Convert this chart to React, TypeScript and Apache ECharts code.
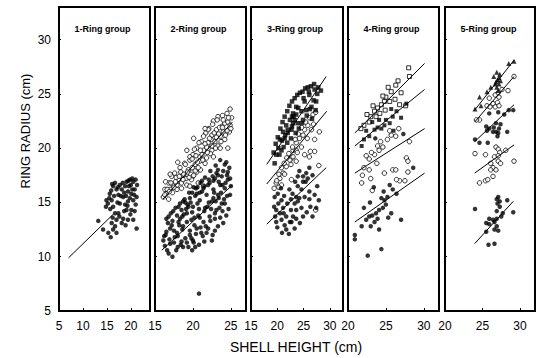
import React, { useEffect, useRef } from "react";
import * as echarts from "echarts";

const FONT = "'Liberation Sans', Arial, Helvetica, sans-serif";

const panelTitles = ["1-Ring group", "2-Ring group", "3-Ring group", "4-Ring group", "5-Ring group"];
const xAxisTitle = "SHELL HEIGHT (cm)";
const yAxisTitle = "RING RADIUS (cm)";
const xRanges: [number, number][] = [[5, 24], [15, 27], [15, 32.5], [20, 32], [20, 32]];
const yRange: [number, number] = [5, 33];

// ---- Panel 1 ----
const p1Filled = [
  [13.2, 13.3], [14.2, 12.5], [15.3, 12.2], [15.8, 11.8], [14.8, 14.6], [14.9, 15.2], [15.6, 15.8], [16.3, 16.5],
  [16.7, 16.8], [16.0, 15.2], [16.3, 14.6], [16.7, 14.0], [17.0, 13.4], [16.7, 12.8], [17.4, 14.0], [17.7, 14.9],
  [17.4, 15.7], [18.1, 16.2], [18.4, 15.5], [18.8, 16.5], [19.1, 16.9], [19.8, 17.1], [20.5, 16.9], [21.0, 17.1],
  [19.4, 16.0], [20.1, 15.8], [20.8, 16.2], [21.2, 15.5], [20.5, 15.2], [19.4, 15.1], [18.8, 14.8], [19.1, 14.3],
  [20.1, 14.3], [20.8, 14.2], [18.4, 13.5], [19.4, 13.4], [20.5, 13.4], [21.2, 12.6], [18.1, 13.1], [17.0, 12.2],
  [16.3, 12.5], [21.3, 16.6], [20.0, 16.6], [17.7, 16.6], [17.0, 16.2], [15.2, 14.9], [15.5, 15.4], [15.9, 16.1],
  [16.1, 16.7], [16.5, 15.6], [17.2, 15.0], [17.9, 15.6], [18.3, 16.8], [18.6, 15.9], [19.0, 15.6], [19.6, 16.5],
  [20.3, 16.2], [20.7, 15.7], [19.8, 15.4], [19.3, 14.7], [18.6, 14.2], [17.6, 13.7], [16.2, 13.6], [15.7, 14.4],
  [20.3, 17.2], [19.5, 17.0], [17.3, 16.4], [21.0, 14.8], [19.9, 13.9], [18.9, 12.9], [16.0, 13.1],
];
const p1Line = [[7, 9.9], [16.3, 13.9]];

// ---- Panel 2 ----
const p2Open = [
  [24.5, 23.2], [23.3, 22.9], [22.7, 22.5], [24.2, 22.3], [24.6, 22.4], [23.8, 22.0], [23.1, 21.7], [22.1, 21.8],
  [21.7, 21.4], [22.5, 21.2], [23.6, 21.1], [24.2, 20.8], [24.6, 20.0], [22.9, 20.6], [22.0, 20.5], [21.1, 20.6],
  [20.5, 20.0], [21.4, 19.8], [22.5, 19.8], [20.0, 19.4], [20.9, 19.2], [19.6, 18.9], [21.8, 19.1], [18.9, 18.6],
  [20.3, 18.5], [18.3, 18.2], [19.4, 18.0], [17.6, 17.7], [18.7, 17.5], [20.0, 17.4], [17.2, 17.4], [18.1, 17.1],
  [16.8, 16.8], [17.4, 16.6], [19.2, 16.6], [20.7, 16.8], [21.4, 16.5], [16.3, 16.2], [17.0, 16.2], [17.9, 16.2],
  [16.1, 15.5], [16.5, 15.8], [19.8, 17.1], [24.9, 22.1], [24.0, 21.5], [23.3, 20.2], [20.9, 18.8], [20.5, 17.8],
  [19.6, 16.5], [18.5, 16.3], [16.6, 16.2], [17.1, 16.8], [17.8, 17.3], [18.4, 17.8], [19.0, 18.5], [19.6, 19.2],
  [20.2, 19.9], [20.8, 20.5], [21.4, 21.1], [22.0, 21.7], [22.6, 22.2], [23.2, 22.6], [23.9, 23.0], [24.3, 21.2],
  [23.7, 20.6], [23.0, 20.0], [22.3, 19.5], [21.6, 18.6], [21.0, 18.0], [20.3, 17.9], [19.7, 17.6], [19.1, 17.2],
  [18.5, 16.8], [17.9, 16.6], [17.3, 15.9], [16.8, 15.3], [21.8, 20.1], [22.4, 20.8], [21.2, 19.4], [20.6, 18.7],
  [19.9, 18.2], [23.5, 21.9], [24.9, 23.6], [25.1, 22.8], [24.8, 21.5], [16.4, 16.9], [17.0, 17.6], [18.0, 18.7],
  [19.2, 19.8], [20.1, 20.9], [16.3, 15.7], [16.9, 16.0], [17.5, 16.4], [18.2, 17.4], [18.7, 17.1], [19.3, 17.8],
  [19.9, 19.0], [20.4, 19.3], [21.0, 19.8], [21.6, 20.4], [22.2, 20.9], [22.8, 21.4], [23.4, 21.3], [24.0, 22.6],
  [24.7, 22.8], [25.0, 21.8], [23.9, 21.9], [23.1, 21.0], [22.5, 20.2], [21.9, 19.6], [21.3, 18.9], [20.7, 18.2],
  [20.1, 17.5], [19.5, 17.3], [18.8, 17.6], [17.7, 16.9], [22.7, 19.2], [23.6, 20.0], [24.5, 21.6], [21.6, 21.8],
];
const p2Filled = [
  [24.2, 18.5], [23.3, 18.0], [24.6, 17.8], [23.8, 17.4], [22.9, 17.2], [24.6, 17.1], [22.2, 16.8], [23.6, 16.6],
  [21.4, 16.3], [22.7, 16.2], [24.2, 16.3], [20.5, 15.8], [21.8, 15.7], [23.3, 15.7], [19.6, 15.4], [20.9, 15.2],
  [22.5, 15.1], [23.8, 14.9], [18.7, 15.1], [18.1, 14.6], [20.0, 14.6], [21.6, 14.5], [23.1, 14.3], [17.4, 14.2],
  [19.2, 14.0], [20.7, 13.8], [22.2, 13.7], [16.8, 13.7], [18.3, 13.5], [19.8, 13.4], [21.4, 13.2], [22.9, 13.5],
  [24.0, 13.1], [17.2, 12.9], [18.7, 12.8], [20.5, 12.6], [22.0, 12.6], [16.5, 12.3], [17.9, 12.2], [19.6, 12.0],
  [21.1, 12.2], [22.5, 11.5], [16.1, 11.5], [17.0, 11.2], [18.5, 11.4], [20.0, 11.5], [19.4, 10.9], [20.3, 10.9],
  [16.8, 10.3], [24.2, 14.9], [20.8, 6.6], [24.9, 15.7], [23.3, 12.8], [17.0, 12.6], [17.6, 11.8], [18.2, 12.9],
  [18.8, 13.9], [19.3, 14.8], [19.9, 15.9], [20.4, 16.3], [21.0, 16.8], [21.6, 17.3], [22.3, 17.9], [23.0, 18.4],
  [23.6, 18.9], [24.4, 18.7], [24.0, 17.9], [23.4, 16.9], [22.8, 15.9], [22.1, 15.0], [21.5, 14.2], [20.9, 13.6],
  [20.2, 12.9], [19.6, 12.4], [19.0, 11.7], [18.4, 11.1], [17.8, 10.6], [17.3, 10.0], [16.6, 10.6], [16.3, 11.0],
  [21.8, 12.2], [22.6, 12.0], [23.6, 13.6], [24.5, 15.6], [25.0, 16.5], [24.8, 18.2], [20.1, 16.4], [19.5, 15.9],
  [18.9, 15.3], [18.3, 14.9], [17.7, 14.5], [17.1, 14.0], [16.7, 13.1], [21.2, 16.0], [22.0, 16.6], [22.6, 17.4],
  [23.1, 17.7], [20.6, 14.9], [19.9, 14.1], [19.2, 13.2], [18.6, 12.5], [18.0, 11.9], [22.4, 14.4], [23.0, 15.1],
  [23.7, 15.9], [24.3, 16.8], [21.3, 11.9], [20.8, 11.1], [19.9, 10.6], [23.9, 14.2], [24.7, 14.4], [16.4, 12.0],
  [16.9, 11.6], [17.5, 12.4], [18.1, 13.2], [18.6, 13.7], [19.1, 14.4], [19.7, 15.0], [20.3, 15.6], [20.9, 15.9],
  [21.5, 16.5], [22.1, 17.1], [22.7, 17.0], [23.3, 17.5], [23.9, 16.6], [24.5, 17.5], [23.5, 14.5], [22.9, 14.0],
  [22.3, 13.3], [21.7, 12.8], [21.0, 12.7], [20.4, 12.1], [19.8, 11.7], [19.2, 11.3], [18.7, 10.9], [18.0, 10.9],
  [17.5, 11.3], [16.2, 11.9], [16.5, 13.5], [17.3, 13.3], [17.9, 13.8], [18.5, 14.3], [19.4, 14.6], [20.2, 13.6],
  [20.8, 14.4], [21.9, 14.6], [22.7, 15.4], [23.4, 15.4], [24.1, 15.3], [24.9, 17.2], [21.2, 17.0], [20.6, 16.4],
  [19.0, 15.0], [20.1, 11.3], [21.5, 11.4], [22.9, 12.4], [24.4, 13.8],
];
const p2LineOpen = [[16.05, 15.3], [25.2, 22.4]];
const p2LineFilled = [[15.9, 10.6], [25.2, 16.6]];

// ---- Panel 3 ----
const p3Squares = [
  [27.1, 25.4], [27.4, 24.3], [26.1, 24.9], [26.5, 23.8], [25.2, 24.3], [25.5, 23.5], [24.6, 23.4], [24.9, 22.6],
  [23.6, 23.1], [23.9, 22.3], [23.0, 22.3], [22.7, 21.7], [26.6, 22.7], [27.3, 23.5], [23.6, 23.8], [23.0, 23.2],
  [22.4, 22.6], [21.7, 22.1], [21.1, 21.5], [20.5, 20.8], [20.2, 20.0], [19.8, 19.4], [19.5, 18.6], [20.8, 19.8],
  [21.4, 20.9], [22.0, 21.4], [22.8, 22.9], [23.3, 22.6], [19.3, 19.6], [19.7, 20.4], [20.1, 21.0], [20.6, 21.8],
  [21.0, 22.4], [21.4, 22.9], [21.9, 23.4], [22.3, 23.9], [22.8, 24.3], [23.3, 24.6], [23.8, 24.9], [24.3, 25.1],
  [24.8, 25.2], [25.3, 25.5], [25.8, 25.6], [26.4, 25.7], [27.0, 25.9], [27.8, 25.6], [28.3, 25.3], [27.6, 25.0],
  [26.9, 24.4], [26.2, 23.6], [25.6, 23.0], [24.7, 22.3], [24.1, 21.8], [23.5, 21.4], [22.6, 20.9], [21.9, 20.5],
  [21.2, 20.1], [20.4, 19.4], [22.0, 21.7], [23.1, 22.9], [24.0, 23.7], [21.5, 21.2], [20.9, 20.7], [22.8, 22.0],
  [25.0, 24.6], [26.0, 25.2],
];
const p3Open = [
  [26.8, 23.1], [25.8, 22.1], [25.2, 21.7], [24.9, 21.2], [24.2, 20.9], [23.6, 20.5], [23.0, 19.8], [22.7, 19.1],
  [26.5, 21.7], [27.1, 20.8], [26.3, 19.7], [25.2, 19.4], [23.6, 18.8], [23.6, 19.8], [23.0, 19.2], [22.4, 18.9],
  [21.7, 18.3], [21.1, 17.7], [20.5, 17.2], [19.8, 16.8], [20.8, 16.6], [22.7, 17.1], [27.1, 19.7], [26.1, 19.2],
  [27.3, 14.3], [19.4, 16.3], [19.9, 17.0], [20.3, 17.6], [20.8, 18.2], [21.3, 18.6], [21.8, 19.1], [22.2, 19.5],
  [22.9, 20.1], [23.4, 20.8], [24.0, 21.3], [24.6, 21.9], [25.4, 22.4], [26.1, 22.8], [27.3, 23.3], [26.9, 22.2],
  [25.7, 20.9], [24.6, 20.1], [23.8, 19.6], [22.6, 18.5], [21.4, 17.6], [20.3, 16.4], [28.0, 21.5], [27.9, 18.4],
];
const p3Filled = [
  [26.1, 18.2], [25.5, 17.7], [24.9, 17.4], [23.9, 17.4], [26.1, 16.0], [24.9, 16.9], [25.4, 16.9], [23.9, 16.5],
  [25.2, 15.5], [24.2, 15.4], [26.1, 15.3], [27.1, 15.7], [26.3, 14.6], [27.4, 14.5], [24.6, 14.5], [23.3, 14.9],
  [24.9, 13.7], [23.6, 13.5], [22.7, 13.2], [19.5, 15.5], [20.2, 14.9], [20.8, 15.2], [19.8, 14.3], [20.5, 14.0],
  [21.1, 14.5], [21.7, 13.7], [20.8, 13.4], [19.8, 13.2], [21.4, 12.9], [22.4, 13.2], [23.0, 13.7], [23.6, 14.3],
  [23.6, 15.5], [22.6, 15.3], [21.7, 12.5], [19.6, 13.7], [20.1, 15.8], [20.7, 16.3], [21.3, 15.6], [21.9, 14.9],
  [22.3, 16.2], [22.9, 15.8], [23.4, 16.9], [24.2, 17.9], [24.6, 16.2], [25.8, 17.2], [26.7, 17.5], [27.6, 16.5],
  [27.9, 15.2], [26.7, 13.7], [25.6, 14.1], [24.3, 13.1], [23.3, 12.6], [22.2, 12.1], [20.9, 12.2], [20.0, 12.7],
  [19.4, 14.6], [21.2, 14.0], [22.6, 14.3], [23.9, 15.1],
];
const p3LineTop = [[18, 18.5], [29.3, 26.6]];
const p3LineMid = [[18, 16.7], [29.4, 23.4]];
const p3LineLow = [[18, 13.0], [29.3, 18.2]];

// ---- Panel 4 ----
const p4OpenSq = [
  [28.0, 27.4], [26.6, 26.2], [27.0, 25.1], [26.3, 25.8], [25.7, 25.2], [25.0, 24.7], [24.8, 24.3], [24.4, 24.0],
  [23.9, 23.7], [23.5, 23.4], [23.7, 22.9], [23.0, 22.9], [22.8, 22.4], [22.1, 22.1], [21.7, 21.8], [24.2, 23.2],
  [24.9, 23.5], [25.5, 24.3], [26.2, 24.5], [28.1, 26.6], [25.3, 25.6], [24.6, 24.8], [23.3, 23.9], [22.5, 23.1],
  [26.8, 24.0], [27.6, 23.9],
];
const p4FilledSq = [
  [27.7, 24.1], [27.0, 22.8], [25.9, 22.9], [25.5, 22.3], [24.8, 22.1], [24.4, 21.8], [23.9, 21.9], [23.5, 21.7],
  [22.8, 21.1], [22.1, 20.8], [21.8, 20.2], [25.0, 22.6], [26.4, 23.4], [24.1, 22.6], [23.2, 22.4], [25.7, 23.6],
  [22.4, 21.6], [26.0, 21.6],
];
const p4Open = [
  [26.7, 21.8], [26.3, 21.1], [25.7, 21.2], [25.2, 20.8], [24.6, 20.1], [24.1, 19.8], [23.5, 19.4], [23.1, 19.6],
  [22.8, 19.0], [23.8, 18.6], [22.1, 18.2], [21.9, 17.5], [22.8, 18.0], [24.8, 17.7], [25.9, 18.0], [27.7, 19.1],
  [27.9, 18.8], [28.1, 20.6], [26.8, 17.0], [21.8, 16.8], [23.0, 17.2], [23.2, 16.1], [26.3, 18.0], [27.9, 17.8],
  [26.4, 17.1], [27.5, 17.0], [24.3, 20.6], [25.5, 21.6], [23.9, 20.2], [22.4, 19.3],
];
const p4Filled = [
  [24.4, 15.4], [24.8, 15.2], [25.2, 15.5], [25.0, 14.8], [24.6, 14.5], [24.1, 14.3], [23.7, 14.0], [23.2, 13.8],
  [22.8, 13.7], [22.4, 13.4], [23.9, 13.5], [23.5, 13.2], [23.0, 12.8], [21.8, 12.8], [20.9, 12.0], [24.1, 12.5],
  [27.0, 13.4], [25.9, 16.2], [25.5, 16.6], [26.4, 15.8], [22.6, 10.1], [24.4, 10.7], [22.1, 14.5], [25.7, 14.0],
  [23.4, 16.4], [24.7, 16.0], [25.3, 13.6], [22.9, 15.0], [20.9, 11.6], [28.6, 18.2], [27.3, 21.3], [23.6, 20.9],
];
const p4Lines = [
  [[20.9, 21.4], [30.1, 27.8]],
  [[20.9, 20.2], [30.1, 25.4]],
  [[20.9, 17.7], [30.1, 21.8]],
  [[20.9, 13.2], [30.1, 17.7]],
];

// ---- Panel 5 ----
const p5Tri = [
  [29.2, 28.0], [28.5, 27.8], [27.3, 26.8], [27.2, 26.5], [27.0, 26.3], [26.8, 26.1], [26.7, 25.9], [27.2, 25.9],
  [26.9, 25.6], [26.1, 25.6], [25.6, 25.2], [24.6, 24.7], [24.0, 23.6], [24.8, 23.9], [27.4, 26.2], [27.1, 25.3],
  [26.5, 26.6], [26.9, 27.0],
];
const p5OpenTop = [
  [29.2, 26.6], [28.4, 25.3], [25.9, 24.6], [26.7, 24.9], [27.2, 24.7], [25.6, 23.9], [26.0, 23.8], [26.4, 24.1],
  [26.7, 23.8], [27.0, 24.2], [27.2, 23.9], [27.1, 25.1], [24.6, 22.6], [24.2, 22.6], [27.6, 25.4],
];
const p5FilledMid = [
  [29.1, 23.5], [28.5, 23.5], [27.9, 23.1], [27.1, 23.3], [25.9, 23.2], [25.5, 22.0], [26.5, 21.9], [26.8, 22.3],
  [27.4, 22.2], [26.4, 21.5], [26.8, 21.5], [27.1, 21.4], [25.6, 21.6], [25.9, 21.8], [28.3, 21.5], [27.2, 21.8],
  [24.0, 20.8], [24.6, 20.5], [25.7, 20.5], [27.0, 21.1],
];
const p5OpenLow = [
  [24.0, 19.5], [25.4, 19.4], [26.8, 20.1], [27.1, 19.9], [27.3, 19.6], [26.6, 19.2], [27.1, 18.8], [27.4, 18.6],
  [26.1, 18.6], [26.4, 18.2], [26.8, 18.0], [26.1, 18.0], [29.2, 18.8], [24.6, 16.8], [25.4, 17.0], [25.7, 17.1],
  [26.4, 17.4], [27.1, 19.3], [28.1, 19.8],
];
const p5FilledLow = [
  [24.0, 14.4], [26.9, 15.3], [27.1, 15.5], [27.3, 15.1], [27.0, 14.9], [27.3, 14.6], [26.9, 14.2], [25.9, 13.5],
  [26.4, 13.4], [26.9, 13.5], [27.7, 14.0], [27.5, 13.7], [26.6, 13.2], [25.5, 13.1], [25.9, 13.0], [26.9, 12.8],
  [27.1, 12.4], [26.6, 12.5], [25.5, 12.3], [28.3, 15.2], [29.1, 14.1], [25.8, 11.1], [26.6, 11.2],
];
const p5Lines = [
  [[23.95, 23.5], [29.2, 28.1]],
  [[23.95, 22.4], [29.2, 26.6]],
  [[23.95, 20.6], [29.2, 24.0]],
  [[23.95, 17.7], [29.2, 20.3]],
  [[23.95, 11.2], [29.1, 15.1]],
];

const gridLefts = [59, 155, 251, 348, 445];
const gridWidths = [91, 91, 92, 91, 91];

function scatter(data: number[][], gi: number, symbol: string, filled: boolean, size = 4.5) {
  return {
    type: "scatter",
    xAxisIndex: gi,
    yAxisIndex: gi,
    data,
    symbol,
    symbolSize: size,
    silent: true,
    z: filled ? 3 : 2,
    itemStyle: filled
      ? { color: "#000", borderWidth: 0 }
      : { color: "#fff", borderColor: "#000", borderWidth: 1 },
  };
}

function seg(data: number[][], gi: number) {
  return {
    type: "line",
    xAxisIndex: gi,
    yAxisIndex: gi,
    data,
    symbol: "none",
    silent: true,
    z: 5,
    lineStyle: { color: "#000", width: 1 },
  };
}

export default function App() {
  const ref = useRef<HTMLDivElement>(null);
  useEffect(() => {
    if (!ref.current) return;
    const chart = echarts.init(ref.current, undefined, { renderer: "svg" });
    const grid = gridLefts.map((l, i) => ({
      left: l,
      width: gridWidths[i],
      top: 7,
      height: 304,
      show: true,
      borderColor: "#000",
      borderWidth: 2,
      backgroundColor: "transparent",
    }));
    const xAxis = xRanges.map(([mn, mx], i) => ({
      type: "value",
      gridIndex: i,
      min: mn,
      max: mx,
      interval: 5,
      axisLine: { show: false },
      axisTick: { show: true, inside: true, length: 3, lineStyle: { color: "#000" } },
      splitLine: { show: false },
      axisLabel: {
        color: "#000",
        fontSize: 12,
        fontFamily: FONT,
        margin: 9,
        formatter: (v: number) => (v % 5 === 0 ? String(v) : ""),
      },
    }));
    const yAxis = gridLefts.map((_, i) => ({
      type: "value",
      gridIndex: i,
      min: yRange[0],
      max: yRange[1],
      interval: 5,
      axisLine: { show: false },
      axisTick: { show: true, inside: true, length: 2, lineStyle: { color: "#000" } },
      splitLine: { show: false },
      axisLabel: {
        show: i === 0,
        color: "#000",
        fontSize: 12,
        fontFamily: FONT,
        margin: 8,
        formatter: (v: number) => (v % 5 === 0 ? String(v) : ""),
      },
    }));
    const series: any[] = [
      scatter(p1Filled, 0, "circle", true),
      seg(p1Line, 0),
      scatter(p2Filled, 1, "circle", true),
      scatter(p2Open, 1, "circle", false),
      seg(p2LineOpen, 1),
      seg(p2LineFilled, 1),
      scatter(p3Filled, 2, "circle", true),
      scatter(p3Open, 2, "circle", false),
      scatter(p3Squares, 2, "rect", true),
      seg(p3LineTop, 2),
      seg(p3LineMid, 2),
      seg(p3LineLow, 2),
      scatter(p4Filled, 3, "circle", true),
      scatter(p4Open, 3, "circle", false),
      scatter(p4FilledSq, 3, "rect", true, 4),
      scatter(p4OpenSq, 3, "rect", false, 4),
      ...p4Lines.map((d) => seg(d, 3)),
      scatter(p5FilledLow, 4, "circle", true),
      scatter(p5OpenLow, 4, "circle", false),
      scatter(p5FilledMid, 4, "circle", true),
      scatter(p5OpenTop, 4, "circle", false),
      scatter(p5Tri, 4, "triangle", true, 5),
      ...p5Lines.map((d) => seg(d, 4)),
    ];
    const titleTexts = panelTitles.map((t, i) => ({
      type: "text",
      x: gridLefts[i] + gridWidths[i] / 2 - 2,
      y: 29,
      style: {
        text: t,
        fill: "#000",
        font: `bold 9px ${FONT}`,
        align: "center",
        verticalAlign: "middle",
        textAlign: "center",
        textVerticalAlign: "middle",
      },
    }));
    chart.setOption({
      animation: false,
      grid,
      xAxis,
      yAxis,
      series,
      graphic: [
        ...titleTexts,
        {
          type: "text",
          x: 296,
          y: 347,
          style: {
            text: xAxisTitle,
            fill: "#000",
            font: `14px ${FONT}`,
            align: "center",
            verticalAlign: "middle",
            textAlign: "center",
            textVerticalAlign: "middle",
          },
        },
        {
          type: "text",
          x: 25,
          y: 131,
          rotation: Math.PI / 2,
          style: {
            text: yAxisTitle,
            fill: "#000",
            font: `13px ${FONT}`,
            align: "center",
            verticalAlign: "middle",
            textAlign: "center",
            textVerticalAlign: "middle",
          },
        },
      ],
    });
    return () => chart.dispose();
  }, []);
  return (
    <div
      ref={ref}
      style={{ position: "fixed", left: 0, top: 0, width: 538, height: 358, background: "#fff" }}
    />
  );
}
